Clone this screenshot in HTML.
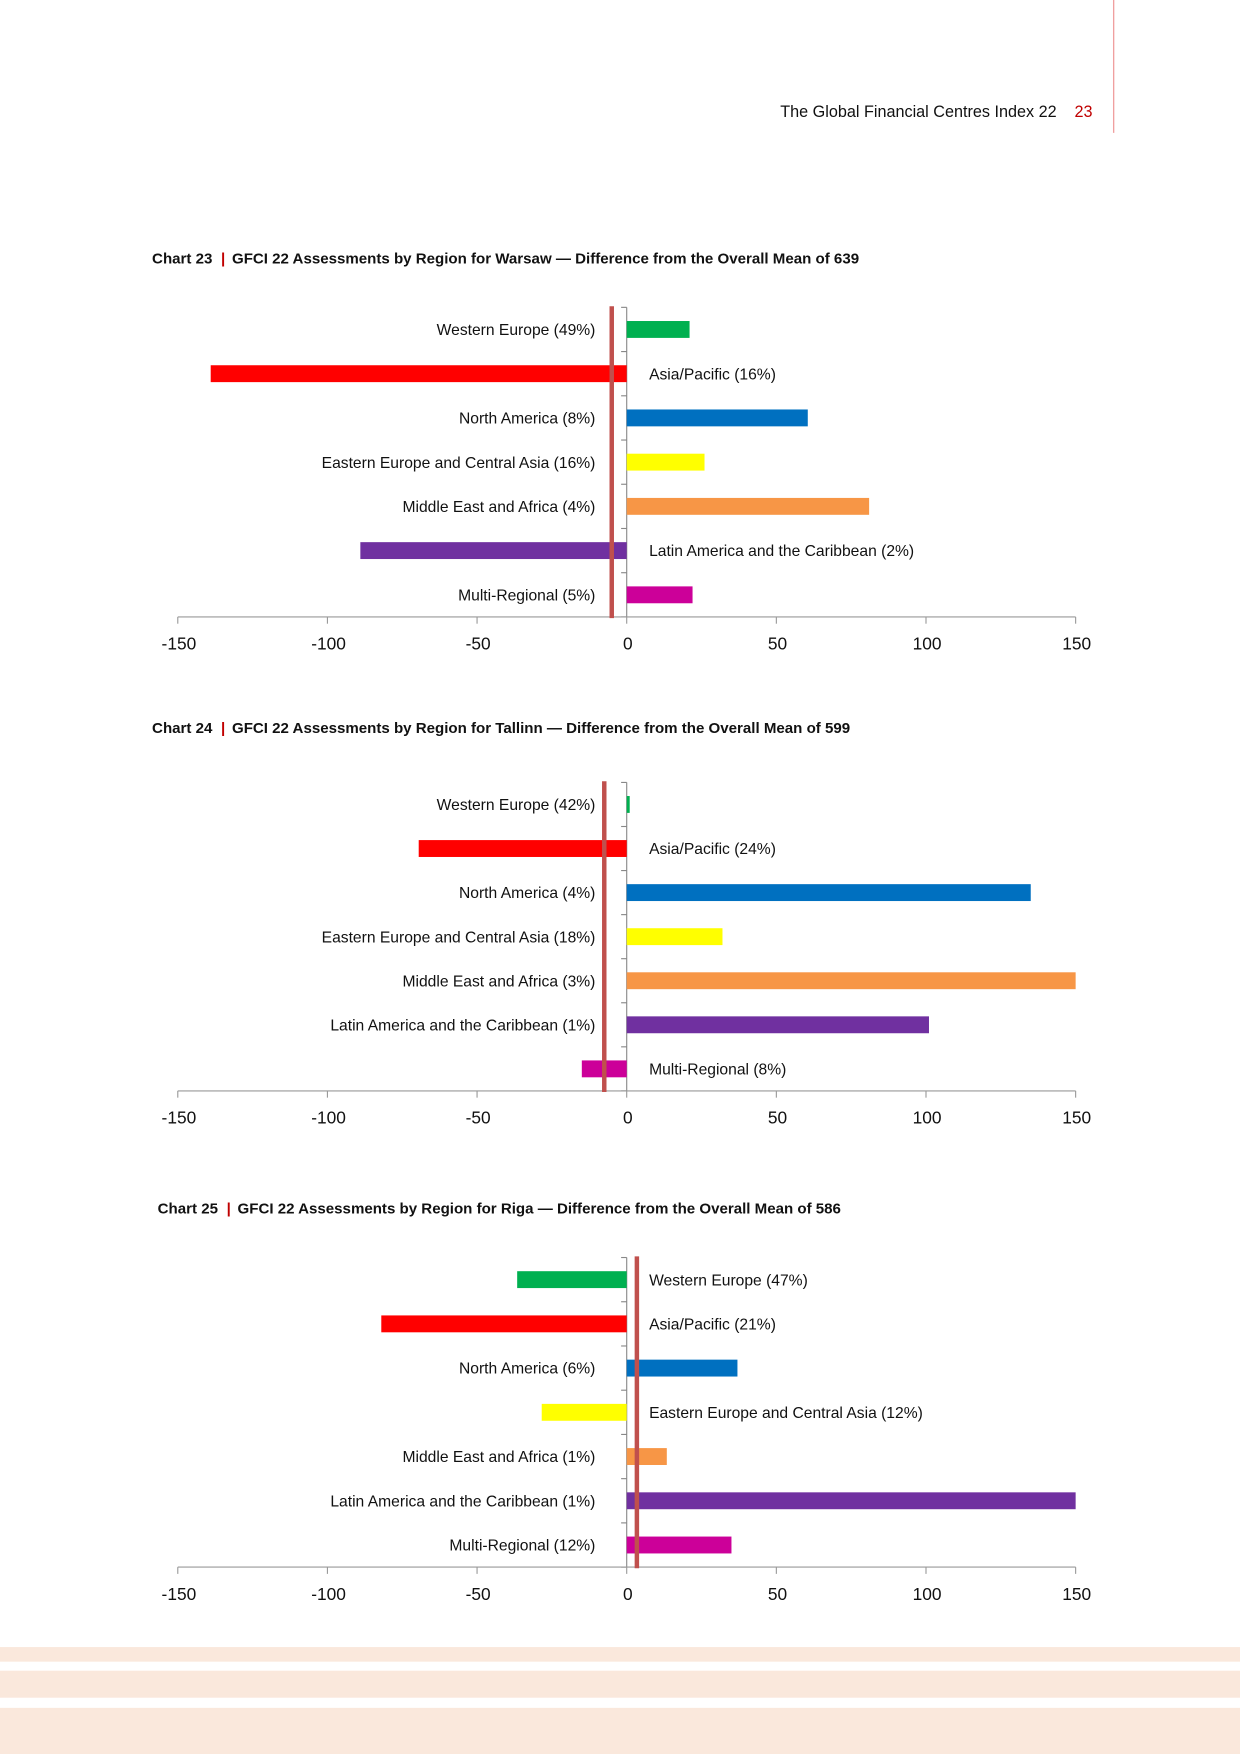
<!DOCTYPE html>
<html><head><meta charset="utf-8"><style>
html,body{margin:0;padding:0;background:#fff}
svg{display:block}
text{font-family:"Liberation Sans",sans-serif}
</style></head><body>
<svg id="page" width="1240" height="1754" viewBox="0 0 1109 1558" preserveAspectRatio="none" xmlns="http://www.w3.org/2000/svg">
<line x1="996" y1="0" x2="996" y2="118" stroke="#f0a0a0" stroke-width="1.2"/>
<text x="945" y="104" text-anchor="end" font-size="14.5" fill="#111">The Global Financial Centres Index  22</text>
<text x="961" y="104" font-size="14.5" fill="#c00000">23</text>
<rect x="0" y="1463" width="1109" height="13" fill="#fae8dc"/>
<rect x="0" y="1484" width="1109" height="24" fill="#fae8dc"/>
<rect x="0" y="1517" width="1109" height="41" fill="#fae8dc"/>
</svg>
<script>
// Shared categories and colours
const categories = ["Western Europe","Asia/Pacific","North America","Eastern Europe and Central Asia","Middle East and Africa","Latin America and the Caribbean","Multi-Regional"];
const barColors = ["#00b050","#ff0000","#0070c0","#ffff00","#f79646","#7030a0","#cc0099"];
const tickValues = [-150,-100,-50,0,50,100,150];

// Chart 23 - Warsaw
const warsawShares = ["49%","16%","8%","16%","4%","2%","5%"];
const warsawValues = [21,-139,60.5,26,81,-89,22];
const warsawMean = -5;
// Chart 24 - Tallinn
const tallinnShares = ["42%","24%","4%","18%","3%","1%","8%"];
const tallinnValues = [1,-69.5,135,32,150,101,-15];
const tallinnMean = -7.5;
// Chart 25 - Riga
const rigaShares = ["47%","21%","6%","12%","1%","1%","12%"];
const rigaValues = [-36.6,-82,37,-28.4,13.4,150,35];
const rigaMean = 3.4;

const NS = "http://www.w3.org/2000/svg";
const svg = document.getElementById("page");
function mk(tag, attrs, parent){
  const e = document.createElementNS(NS, tag);
  for (const k in attrs) e.setAttribute(k, attrs[k]);
  (parent||svg).appendChild(e);
  return e;
}
const X0 = 561, XMIN = -150, XMAX = 150, PXL = 159, PXR = 962;
function xScale(v){ return PXL + (v - XMIN) / (XMAX - XMIN) * (PXR - PXL); }

function drawChart(cfg){
  const g = mk("g", {});
  
  
  // title
  const t = mk("text", {x: cfg.titleX, y: cfg.titleY, "font-size": 13.5, "font-weight": "bold", fill: "#111"}, g);
  
  
  const s1 = mk("tspan", {}, t); s1.textContent = cfg.chartNo + " ";
  const s2 = mk("tspan", {fill: "#c00000", dx: 4}, t); s2.textContent = "|";
  const s3 = mk("tspan", {dx: 6}, t); s3.textContent = cfg.title;

  const top = cfg.top, axisY = cfg.axisY;
  const band = (axisY - top) / categories.length;
  const zx = xScale(0);
  // category axis line
  const ya = mk("line", {x1: zx, y1: top, x2: zx, y2: axisY, stroke: "#888", "stroke-width": 1}, g);
  
  
  for (let i = 0; i <= categories.length; i++) {
    const y = top + i * band;
    const tk = mk("line", {x1: zx - 5, y1: y, x2: zx, y2: y, stroke: "#888", "stroke-width": 1}, g);
    
    
  }
  // bars and labels
  for (let i = 0; i < categories.length; i++) {
    const v = cfg.values[i];
    const cy = top + (i + 0.5) * band;
    const x1 = Math.min(xScale(v), zx), x2 = Math.max(xScale(v), zx);
    const b = mk("rect", {x: x1, y: cy - 7.5, width: Math.max(x2 - x1, 1), height: 15, fill: barColors[i]}, g);
    
    
    const lbl = categories[i] + " (" + cfg.shares[i] + ")";
    const right = v < 0;
    const lt = mk("text", {x: right ? zx + 20 : zx - 28, y: cy + 5, "font-size": 14, fill: "#111", "text-anchor": right ? "start" : "end"}, g);
    
    
    lt.textContent = lbl;
  }
  // value axis
  const xa = mk("line", {x1: PXL, y1: axisY, x2: PXR, y2: axisY, stroke: "#999", "stroke-width": 1}, g);
  
  
  for (const tv of tickValues) {
    const x = xScale(tv);
    const tk = mk("line", {x1: x, y1: axisY, x2: x, y2: axisY + 6, stroke: "#999", "stroke-width": 1}, g);
    
    
    const tl = mk("text", {x: x + 1, y: axisY + 29, "font-size": 15.5, fill: "#111", "text-anchor": "middle"}, g);
    
    
    tl.textContent = tv;
  }
  // mean line
  const mx = xScale(cfg.mean);
  const ml = mk("line", {x1: mx, y1: top - 1, x2: mx, y2: axisY + 1, stroke: "#c0504d", "stroke-width": 4}, g);
  
  
}

drawChart({name: "chart-23-warsaw", chartNo: "Chart 23", titleX: 136, titleY: 234,
  title: "GFCI 22 Assessments by Region for Warsaw — Difference from the Overall Mean of 639",
  top: 273, axisY: 548, values: warsawValues, shares: warsawShares, mean: warsawMean});
drawChart({name: "chart-24-tallinn", chartNo: "Chart 24", titleX: 136, titleY: 651,
  title: "GFCI 22 Assessments by Region for Tallinn — Difference from the Overall Mean of 599",
  top: 695, axisY: 969, values: tallinnValues, shares: tallinnShares, mean: tallinnMean});
drawChart({name: "chart-25-riga", chartNo: "Chart 25", titleX: 141, titleY: 1078,
  title: "GFCI 22 Assessments by Region for Riga — Difference from the Overall Mean of 586",
  top: 1117, axisY: 1392, values: rigaValues, shares: rigaShares, mean: rigaMean});
</script>
</body></html>
